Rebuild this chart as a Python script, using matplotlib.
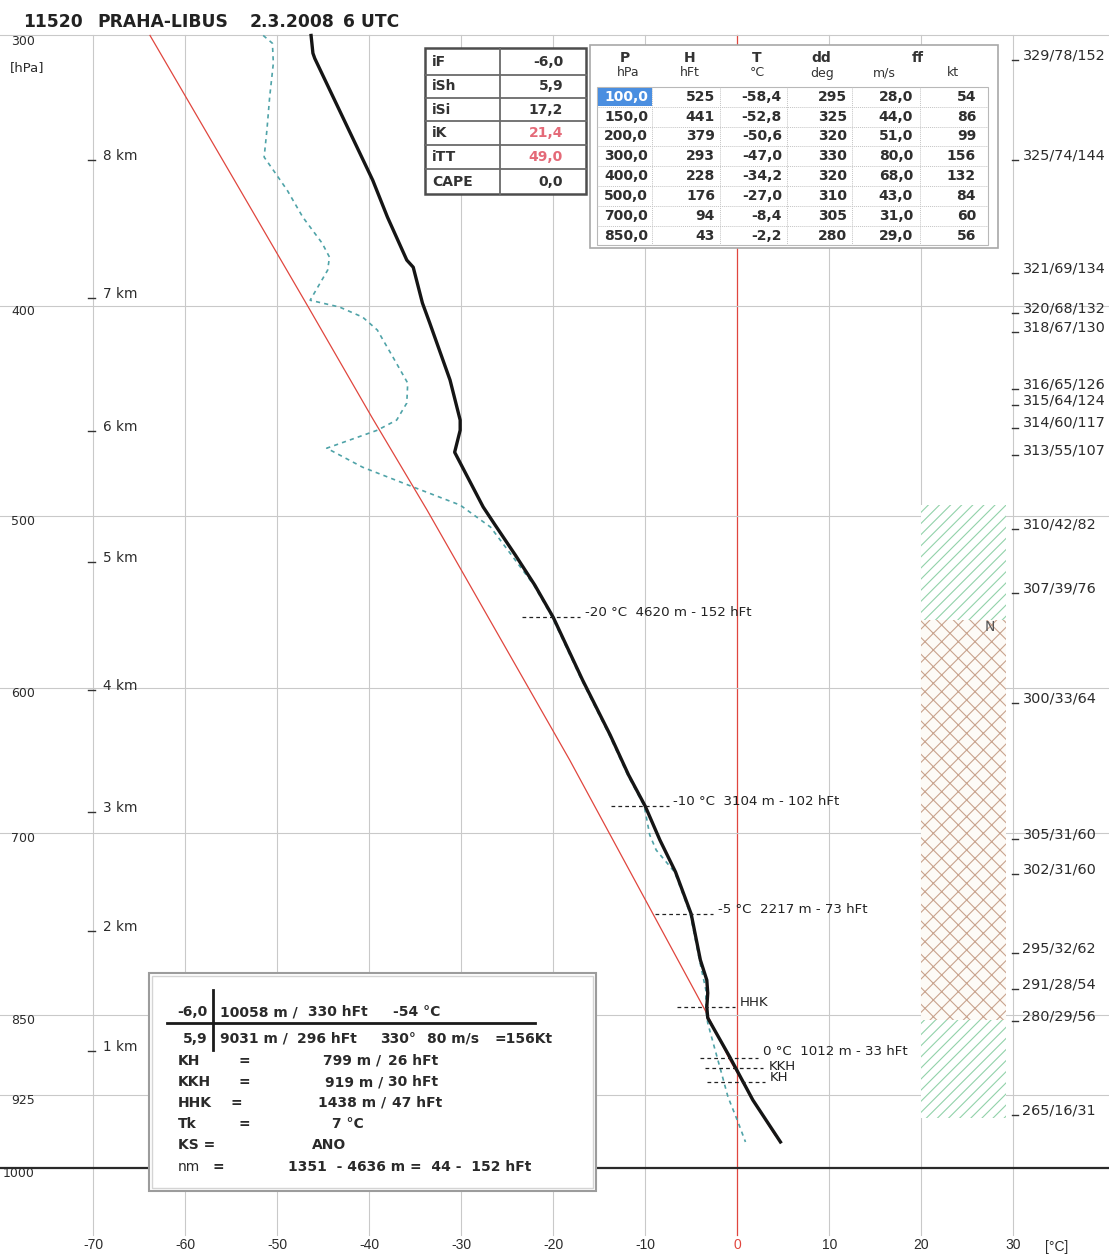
import matplotlib
matplotlib.use("Agg")
import matplotlib.pyplot as plt
from matplotlib.patches import Rectangle

plt.rcParams["font.family"] = ["DejaVu Sans"]
plt.rcParams["hatch.linewidth"] = 0.8

# ---- temperature profile (deg C) against pressure (hPa) ----
temp_p = [300.0, 305.7, 307.4, 349.9, 363.9, 380.9, 383.8, 398.7, 407.3, 432.7,
          451.5, 456.4, 467.2, 495.2, 504.8, 521.2, 538.0, 556.7, 595.2, 631.0,
          658.4, 680.5, 705.5, 729.9, 763.2, 801.5, 818.8, 830.1, 842.6, 852.4,
          888.6, 930.1, 972.5]
temp_t = [-46.3, -46.1, -45.9, -39.6, -38.0, -35.9, -35.2, -34.2, -33.4, -31.2,
          -30.1, -30.1, -30.7, -27.6, -26.3, -24.1, -22.0, -20.0, -16.8, -13.8,
          -11.8, -10.0, -8.4, -6.7, -5.0, -4.0, -3.3, -3.2, -3.3, -3.2,
          -0.8, 1.7, 4.7]

# ---- dew point profile ----
dew_p = [300.0, 302.5, 309.0, 320.3, 331.8, 341.4, 346.2, 353.6, 363.9, 374.1,
         379.7, 385.0, 397.5, 400.4, 404.7, 410.3, 422.3, 434.1, 443.4, 451.5,
         456.4, 465.2, 474.7, 484.8, 494.2, 505.9, 522.0, 538.0, 556.7, 595.2,
         631.0, 658.4, 680.5, 701.8, 713.1, 729.9, 763.2, 801.5, 827.5, 845.2,
         857.0, 881.9, 900.8, 927.1, 950.0, 972.5]
dew_t = [-51.5, -50.5, -50.4, -50.8, -51.1, -51.4, -50.4, -48.9, -47.2, -45.1,
         -44.3, -44.5, -46.4, -43.2, -40.7, -39.1, -37.4, -35.8, -35.9, -37.0,
         -39.1, -44.6, -40.7, -35.2, -30.1, -26.8, -24.4, -22.1, -20.1, -16.9,
         -13.9, -11.9, -10.1, -9.5, -8.8, -6.8, -5.1, -4.1, -3.4, -3.4,
         -3.2, -2.4, -1.8, -1.0, 0.0, 0.9]

# ---- lifted parcel curve ----
parcel_p = [300.0, 353.6, 400.4, 450.1, 496.8, 648.0, 845.2, 858.8, 891.4, 930.1, 965.3]
parcel_t = [-63.8, -54.0, -46.6, -39.7, -33.7, -18.2, -3.5, -2.7, -0.8, 1.7, 4.1]

# ---- diagram grid ----
isotherms = [-70, -60, -50, -40, -30, -20, -10, 0, 10, 20, 30]
isobars = [300, 400, 500, 600, 700, 850, 925]
isobar_labels = ["300", "400", "500", "600", "700", "850", "925", "1000"]
isobar_label_p = [300, 400, 500, 600, 700, 850, 925, 1000]
surface_p = 1000

# height marks
km_labels = ["8 km", "7 km", "6 km", "5 km", "4 km", "3 km", "2 km", "1 km"]
km_p = [341, 395, 455, 523, 599, 682, 774, 879]

# wind: direction / speed m/s / speed kt
wind_labels = ["329/78/152", "325/74/144", "321/69/134", "320/68/132", "318/67/130",
               "316/65/126", "315/64/124", "314/60/117", "313/55/107", "310/42/82",
               "307/39/76", "300/33/64", "305/31/60", "302/31/60", "295/32/62",
               "291/28/54", "280/29/56", "265/16/31"]
wind_p = [306.4, 340.7, 384.2, 400.9, 409.0, 434.6, 442.0, 452.9, 466.1, 504.3,
          539.8, 606.7, 701.5, 728.1, 791.9, 822.8, 851.3, 940.1]

# characteristic levels
level_labels = ["-20 °C  4620 m - 152 hFt", "-10 °C  3104 m - 102 hFt",
                "-5 °C  2217 m - 73 hFt", "HHK", "0 °C  1012 m - 33 hFt", "KKH", "KH"]
level_p = [556.7, 680.5, 763.2, 842.6, 889.5, 899.0, 912.4]
level_t = [-20.2, -10.6, -5.8, -3.4, -0.9, -0.3, -0.1]
level_text_rise = [3.5, 3.5, 3.5, 3.5, 5.0, 1.0, 3.5]

# cloud and icing columns
cloud_layers = [(494.2, 558.5), (854.6, 948.0)]
icing_layer = (558.5, 854.6)
column_t = (20.0, 29.2)

# stability indices
index_names = ["iF", "iSh", "iSi", "iK", "iTT", "CAPE"]
index_values = [-6.0, 5.9, 17.2, 21.4, 49.0, 0.0]
index_alert = [False, False, False, True, True, False]

# standard levels table
tab_p = [100, 150, 200, 300, 400, 500, 700, 850]
tab_h = [525, 441, 379, 293, 228, 176, 94, 43]
tab_t = [-58.4, -52.8, -50.6, -47.0, -34.2, -27.0, -8.4, -2.2]
tab_dd = [295, 325, 320, 330, 320, 310, 305, 280]
tab_ff = [28.0, 44.0, 51.0, 80.0, 68.0, 43.0, 31.0, 29.0]
tab_kt = [54, 86, 99, 156, 132, 84, 60, 56]


def dec(v):
    return f"{v:.1f}".replace(".", ",")


W, H, DPI = 1109, 1257, 100
TXT = "#2b2b2b"
GRID = "#c9c9c9"
RED = "#e0463e"

fig = plt.figure(figsize=(W / DPI, H / DPI), dpi=DPI)
fig.patch.set_facecolor("white")

ax = fig.add_axes([0, 0, 1, 1])
ax.set_xlim(-80.1, 40.4)
ax.set_yscale("log")
ax.set_ylim(1099.0, 288.9)
ax.axis("off")

lay = fig.add_axes([0, 0, 1, 1], zorder=5)
lay.set_xlim(0, W)
lay.set_ylim(H, 0)
lay.axis("off")
lay.patch.set_alpha(0)

# grid
for t in isotherms:
    ax.plot([t, t], [300, 1074], color=RED if t == 0 else GRID,
            lw=0.9 if t == 0 else 0.8, zorder=1)
for p in isobars:
    ax.plot([-80.1, 40.4], [p, p], color=GRID, lw=0.8, zorder=1)
ax.plot([-80.1, 40.4], [surface_p, surface_p], color="#2a2a2a", lw=1.6, zorder=1.2)

# cloud / icing columns
for lo, hi in cloud_layers:
    ax.add_patch(Rectangle((column_t[0], lo), column_t[1] - column_t[0], hi - lo,
                           facecolor="white", edgecolor="#92d2aa", hatch="///",
                           lw=0, zorder=1.5))
lo, hi = icing_layer
ax.add_patch(Rectangle((column_t[0], lo), column_t[1] - column_t[0], hi - lo,
                       facecolor="#fdfaf6", edgecolor="#c9a38e", hatch="xx",
                       lw=0, zorder=1.5))
ax.text(27.5, 562.6, "N", ha="center", va="center", fontsize=10, color="#555", zorder=2)

# profiles
ax.plot(parcel_t, parcel_p, color=RED, lw=0.9, zorder=3.5)
ax.plot(dew_t, dew_p, color="#4fa3a8", lw=1.2, ls=(0, (2.5, 2.5)), zorder=3)
ax.plot(temp_t, temp_p, color="#151515", lw=2.4, zorder=4, solid_joinstyle="round")

# characteristic levels
for lbl, p, t, rise in zip(level_labels, level_p, level_t, level_text_rise):
    ax.plot([t - 3.15, t + 3.15], [p, p], color="#222", lw=0.9,
            ls=(0, (3, 2.5)), zorder=5)
    ax.annotate(lbl, xy=(t + 3.15, p), xytext=(3.5, rise), textcoords="offset points",
                ha="left", va="center", fontsize=9.6, color="#222", zorder=6)

# height marks along the -70 isotherm
for lbl, p in zip(km_labels, km_p):
    ax.plot([-70.5, -69.8], [p * 1.004, p * 1.004], color="#333", lw=1.0, zorder=3)
    ax.text(-68.9, p, lbl, ha="left", va="center", fontsize=9.8, color=TXT, zorder=3)

# wind labels on the right
for lbl, p in zip(wind_labels, wind_p):
    ax.plot([29.9, 30.5], [p * 1.005, p * 1.005], color="#333", lw=1.0, zorder=3)
    ax.text(31.0, p, lbl, ha="left", va="center", fontsize=10.4, color=TXT, zorder=3)

# pressure labels
for lbl, p in zip(isobar_labels, isobar_label_p):
    ax.annotate(lbl, xy=(-76.3, p), xytext=(0, -4), textcoords="offset points",
                ha="right", va="center", fontsize=9, color=TXT)

# temperature labels
for t in isotherms:
    ax.text(t, 1085, f"{t}", ha="center", va="center", fontsize=10,
            family=["Liberation Sans Narrow", "Liberation Sans", "DejaVu Sans"],
            color=RED if t == 0 else TXT)
lay.text(1045, 1247, "[°C]", ha="left", va="center", fontsize=10,
         family=["Liberation Sans Narrow", "Liberation Sans", "DejaVu Sans"], color=TXT)
lay.text(10, 68, "[hPa]", ha="left", va="center", fontsize=9.5, color=TXT)

# title
for x, s in [(23, "11520"), (97, "PRAHA-LIBUS"), (250, "2.3.2008"), (343, "6 UTC")]:
    lay.text(x, 22, s, ha="left", va="center", fontsize=12.3, fontweight="bold", color="#222")

# ---- stability index table ----
t1x0, t1x1, t1xm = 425, 586, 500
t1_rows = [48, 75, 98, 121, 145, 169, 194]
lay.add_patch(Rectangle((t1x0, t1_rows[0]), t1x1 - t1x0, t1_rows[-1] - t1_rows[0],
                        facecolor="white", edgecolor="#4d4d4d", lw=1.8, zorder=5))
for yv in t1_rows[1:-1]:
    lay.plot([t1x0, t1x1], [yv, yv], color="#6a6a6a", lw=1.3, zorder=6)
lay.plot([t1xm, t1xm], [t1_rows[0], t1_rows[-1]], color="#6a6a6a", lw=1.3, zorder=6)
for i, (name, val, alert) in enumerate(zip(index_names, index_values, index_alert)):
    yc = (t1_rows[i] + t1_rows[i + 1]) / 2
    lay.text(432, yc, name, ha="left", va="center", fontsize=10,
             fontweight="bold", color="#333", zorder=7)
    lay.text(563, yc, dec(val), ha="right", va="center", fontsize=10,
             fontweight="bold", color="#e46a78" if alert else "#333", zorder=7)

# ---- standard levels table ----
t2x0, t2x1, t2y0, t2y1 = 590, 998, 45, 248
lay.add_patch(Rectangle((t2x0, t2y0), t2x1 - t2x0, t2y1 - t2y0, facecolor="white",
                        edgecolor="#a8a8a8", lw=1.2, zorder=5))
col_edges = [597, 652, 720, 787, 852, 920, 988]
row0, row_h = 87, 19.8
rows_bottom = row0 + row_h * len(tab_p)
lay.add_patch(Rectangle((col_edges[0], row0), col_edges[-1] - col_edges[0],
                        rows_bottom - row0, facecolor="none", edgecolor="#b8b8b8",
                        lw=0.8, zorder=6))
for i in range(1, len(tab_p)):
    yv = row0 + row_h * i
    lay.plot([col_edges[0], col_edges[-1]], [yv, yv], color="#c4c4c4", lw=0.7,
             ls=(0, (1, 1)), zorder=6)
for xv in col_edges[1:-1]:
    lay.plot([xv, xv], [row0, rows_bottom], color="#c4c4c4", lw=0.7,
             ls=(0, (1, 1)), zorder=6)
lay.add_patch(Rectangle((598, row0 + 1), 54, row_h - 1.5, facecolor="#4a8ee0",
                        edgecolor="none", zorder=6.5))

for x, s in [(625, "P"), (690, "H"), (757, "T"), (821, "dd"), (918, "ff")]:
    lay.text(x, 58, s, ha="center", va="center", fontsize=10, fontweight="bold",
             color="#333", zorder=7)
for x, s in [(628, "hPa"), (690, "hFt"), (757, "°C"), (822, "deg"), (884, "m/s"), (953, "kt")]:
    lay.text(x, 73, s, ha="center", va="center", fontsize=9, color="#333", zorder=7)

right_edges = [648, 715, 782, 847, 913, 976]
for i in range(len(tab_p)):
    yc = row0 + row_h * (i + 0.5)
    cells = [dec(tab_p[i]), str(tab_h[i]), dec(tab_t[i]), str(tab_dd[i]),
             dec(tab_ff[i]), str(tab_kt[i])]
    for j, (xr, s) in enumerate(zip(right_edges, cells)):
        lay.text(xr, yc, s, ha="right", va="center", fontsize=10, fontweight="bold",
                 color="white" if (i == 0 and j == 0) else "#2f2f2f", zorder=7)

# ---- freezing / tropopause summary box ----
bx0, by0, bx1, by1 = 149, 973, 596, 1191
lay.add_patch(Rectangle((bx0, by0), bx1 - bx0, by1 - by0, facecolor="white",
                        edgecolor="#9c9c9c", lw=1.5, zorder=5))
lay.add_patch(Rectangle((bx0 + 3, by0 + 3), bx1 - bx0 - 6, by1 - by0 - 6,
                        facecolor="none", edgecolor="#d4d4d4", lw=1.0, zorder=5))
lay.plot([213, 213], [990, 1050], color="#1a1a1a", lw=2.0, zorder=6)
lay.plot([167, 535], [1023, 1023], color="#1a1a1a", lw=2.0, zorder=6)

box_rows = [
    (1012, [(208, dec(index_values[0]), "right"), (220, "10058 m /", "left"),
            (308, "330 hFt", "left"), (393, "-54 °C", "left")]),
    (1039, [(207, dec(index_values[1]), "right"), (220, "9031 m /", "left"),
            (297, "296 hFt", "left"), (380, "330°", "left"), (427, "80 m/s", "left"),
            (495, "=156Kt", "left")]),
    (1061, [(178, "KH", "left"), (238, "=", "left"), (323, "799 m /", "left"),
            (388, "26 hFt", "left")]),
    (1082, [(178, "KKH", "left"), (238, "=", "left"), (325, "919 m /", "left"),
            (388, "30 hFt", "left")]),
    (1103, [(178, "HHK", "left"), (230, "=", "left"), (318, "1438 m /", "left"),
            (392, "47 hFt", "left")]),
    (1124, [(178, "Tk", "left"), (238, "=", "left"), (332, "7 °C", "left")]),
    (1145, [(178, "KS =", "left"), (312, "ANO", "left")]),
    (1167, [(213, "=", "left"), (288, "1351  - 4636 m =  44 -  152 hFt", "left")]),
]
for yc, items in box_rows:
    for x, s, ha in items:
        lay.text(x, yc, s, ha=ha, va="center", fontsize=10, fontweight="bold",
                 color="#2a2a2a", zorder=7)
lay.text(178, 1167, "nm", ha="left", va="center", fontsize=10, color="#2a2a2a", zorder=7)

fig.savefig("out.png", dpi=DPI, facecolor="white")
